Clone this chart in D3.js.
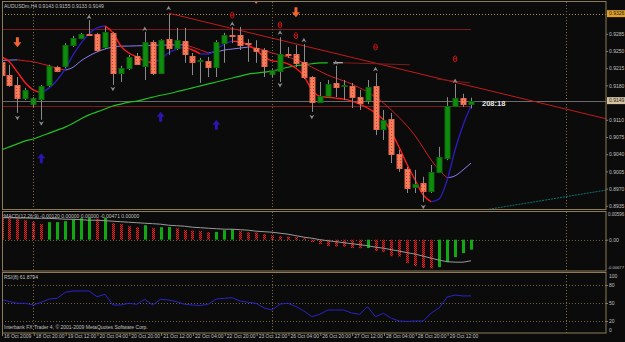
<!DOCTYPE html>
<html>
<head>
<meta charset="utf-8">
<script src="https://cdn.jsdelivr.net/npm/d3@7"></script>
<style>
  body { margin: 0; background: #0b0b0b; }
  svg { display: block; }
  text { font-family: "Liberation Sans", Arial, sans-serif; }
</style>
</head>
<body>
<script>
// AUDUSDm H4, bar 0 = first visible bar (16 Oct 2009)
var open  = [.9228,.9201,.9181,.9154,.9142,.9152,.9181,.9217,.9220,.9262,.9276,.9285,.9285,.9258,.9287,.9205,.9215,.9240,.9220,.9268,
             .9205,.9274,.9256,.9270,.9240,.9230,.9230,.9217,.9266,.9283,.9283,.9266,.9256,.9252,.9203,.9209,.9244,.9244,.9228,.9197,
             .9146,.9158,.9185,.9179,.9179,.9156,.9150,.9179,.9091,.9112,.9040,.9010,.8973,.8981,.8965,.9004,.9032,.9138,.9154,.9143];
var high  = [.9242,.9222,.9197,.9175,.9156,.9181,.9222,.9220,.9266,.9281,.9287,.9313,.9287,.9299,.9289,.9220,.9242,.9246,.9289,.9272,
             .9274,.9325,.9297,.9297,.9246,.9236,.9238,.9272,.9287,.9299,.9299,.9274,.9272,.9256,.9215,.9278,.9258,.9262,.9264,.9199,
             .9187,.9191,.9220,.9191,.9185,.9171,.9191,.9205,.9130,.9124,.9049,.9014,.9008,.8994,.9018,.9055,.9156,.9183,.9163,.9155];
var low   = [.9195,.9177,.9124,.9150,.9136,.9110,.9177,.9207,.9215,.9258,.9274,.9281,.9248,.9254,.9181,.9187,.9211,.9222,.9191,.9201,
             .9203,.9242,.9252,.9226,.9201,.9185,.9197,.9197,.9226,.9266,.9252,.9228,.9226,.9197,.9197,.9187,.9236,.9217,.9193,.9126,
             .9144,.9156,.9156,.9150,.9134,.9130,.9142,.9079,.9069,.9022,.9004,.8961,.8961,.8943,.8961,.9002,.9028,.9136,.9136,.9133];
var close = [.9201,.9181,.9154,.9171,.9154,.9179,.9220,.9209,.9262,.9276,.9285,.9283,.9252,.9289,.9205,.9215,.9238,.9224,.9268,.9205,
             .9272,.9256,.9272,.9244,.9228,.9232,.9217,.9268,.9283,.9281,.9262,.9264,.9250,.9220,.9211,.9244,.9242,.9226,.9197,.9146,
             .9158,.9183,.9177,.9181,.9156,.9144,.9177,.9091,.9110,.9040,.9012,.8971,.8979,.8965,.9004,.9034,.9138,.9154,.9142,.9149];

// fast and slow slope-coloured averages, slow green average
var fastMA = [.9238,.9228,.9207,.9185,.9171,.9165,.9175,.9191,.9213,.9242,.9266,.9285,.9297,.9301,.9287,.9260,.9246,.9238,.9230,.9226,
              .9234,.9246,.9254,.9258,.9252,.9244,.9244,.9254,.9264,.9270,.9268,.9262,.9252,.9238,.9230,.9228,.9224,.9215,.9199,.9171,
              .9158,.9156,.9154,.9152,.9148,.9142,.9134,.9124,.9110,.9085,.9053,.9018,.8987,.8957,.8943,.8949,.8987,.9049,.9099,.9138];
var slowMA = [.92305,.92315,.92320,.9230,.9228,.9224,.9220,.9215,.9211,.9217,.9230,.9240,.9248,.9254,.9258,.9260,.92600,.92605,.92610,.92615,
              .92620,.92622,.92624,.92625,.9258,.9252,.9246,.9248,.9252,.9254,.9256,.9258,.9256,.9252,.9246,.9242,.9238,.9232,.9226,.9217,
              .9209,.9201,.9195,.9189,.9183,.9175,.9167,.9156,.9144,.9130,.9114,.9097,.9077,.9053,.9028,.9008,.8992,.8996,.9008,.9022];
var greenMA = [.9049,.9055,.9061,.9067,.9071,.9077,.9083,.9089,.9095,.9103,.9112,.9120,.9126,.9132,.9138,.9142,.9146,.9148,.9152,.9156,
               .9160,.9163,.9167,.9171,.9175,.9179,.9183,.9187,.9191,.9195,.9199,.9203,.9205,.9207,.9209,.9213,.9217,.9220,.9222,.9224,
               .9226,.9226];

var macdHist = [.00569,.00479,.00475,.00435,.00390,.00346,.00390,.00392,.00413,.00457,.00479,.00491,.00471,.00486,.00368,.00346,.00301,.00279,.00323,.00256,
                .00279,.00283,.00256,.00212,.00205,.00190,.00167,.00174,.00212,.00234,.00190,.00167,.00161,.00123,.00100,.00078,.00071,.00056,.00033,-.00056,
                -.00100,-.00145,-.00152,-.00156,-.00187,-.00190,-.00187,-.00256,-.00279,-.00368,-.00375,-.00524,-.00591,-.00630,-.00642,-.00613,-.00502,-.00390,-.00301,-.00223];
var macdSignal = [.00491,.00491,.00486,.00484,.00479,.00479,.00475,.00468,.00457,.00457,.00446,.00435,.00435,.00424,.00413,.00401,.00390,.00379,.00368,.00357,
                  .00346,.00323,.00312,.00301,.00279,.00268,.00256,.00245,.00234,.00234,.00223,.00212,.00190,.00178,.00167,.00145,.00123,.00089,.00056,.00033,
                  0,-.00022,-.00045,-.00067,-.00089,-.00112,-.00134,-.00167,-.00190,-.00223,-.00256,-.00290,-.00323,-.00368,-.00413,-.00457,-.00491,-.00502,-.00502,-.00471];
var rsi = [55.8,52.5,49.5,49.5,46.7,51.2,56.7,57.8,67.8,70,70,70,60.5,64.5,46.7,46.7,49.5,47.8,56.2,46.7,
           56.2,55,52.2,47.8,46.7,45.8,48.3,56.7,57.8,58.8,53.3,51.2,49.5,41.7,38.3,48.3,49.5,44.2,36.7,27.2,
           31.2,38.3,38.3,38.3,33.3,31.2,43.8,27.2,32.8,24.5,20,19.2,20,20,33.3,41.7,60,63.3,61.7,61.88];

var dateLabels = ["16 Oct 2009","18 Oct 20:00","19 Oct 12:00","20 Oct 04:00","20 Oct 20:00","21 Oct 12:00","22 Oct 04:00",
                  "22 Oct 20:00","23 Oct 12:00","26 Oct 04:00","26 Oct 20:00","27 Oct 12:00","28 Oct 04:00","28 Oct 20:00","29 Oct 12:00"];
var priceTicks = [0.9285,0.9250,0.9215,0.9180,0.9110,0.9075,0.9040,0.9005,0.8970,0.8935];

// signals: [bar, price]
var fractalUp = [[11,.9319],[18,.9295],[21,.9337],[29,.9305],[35,.9287],[38,.9272],[42,.9226],[47,.9213],[57,.9189]];
var fractalDn = [[2,.9114],[5,.9103],[14,.9173],[35,.9181],[39,.9116],[53,.8933]];
var sellArrows = [[2,.9268],[37,.9329],[32,.9356]];
var buyArrows = [[5,.9032],[20,.9116],[27,.9100]];
var redMarks = [[29,.9323],[35,.9303],[37,.9281],[47,.9258],[57,.9234]];

var W = 625, H = 342, R = 606;
var svg = d3.select("body").append("svg").attr("width", W).attr("height", H);
svg.append("rect").attr("width", W).attr("height", H).attr("fill", "#0b0b0b");

var x = d3.scaleLinear().domain([0, 59]).range([1.5, 471]);
var y = d3.scaleLinear().domain([0.8935, 0.9285]).range([205.8, 33.8]);
var yM = d3.scaleLinear().domain([-0.00677, 0.00596]).range([270, 213]);
var yR = d3.scaleLinear().domain([0, 100]).range([333, 273]);
var px = function(i) { return Math.round(x(i)) + 0.5; };

var defs = svg.append("defs");
[["clipMain", 2, 2, R - 2, 208], ["clipMacd", 2, 212, R - 2, 59], ["clipRsi", 2, 273, R - 2, 60]].forEach(function(c) {
  defs.append("clipPath").attr("id", c[0]).append("rect")
    .attr("x", c[1]).attr("y", c[2]).attr("width", c[3]).attr("height", c[4]);
});
var bp = defs.append("pattern").attr("id", "bearPat").attr("width", 3).attr("height", 3).attr("patternUnits", "userSpaceOnUse");
bp.append("rect").attr("width", 3).attr("height", 3).attr("fill", "#f4805e");
bp.append("rect").attr("x", 1).attr("y", 1).attr("width", 1).attr("height", 1).attr("fill", "#d8382a");
var hp = defs.append("pattern").attr("id", "histPat").attr("width", 2).attr("height", 2).attr("patternUnits", "userSpaceOnUse");
hp.append("rect").attr("width", 2).attr("height", 2).attr("fill", "#4a0c0c");
hp.append("rect").attr("width", 1).attr("height", 1).attr("fill", "#e02828");
hp.append("rect").attr("x", 1).attr("y", 1).attr("width", 1).attr("height", 1).attr("fill", "#e02828");

var frame = "#8c7b56", grid = "#6e6148", txt = "#c0c0c0";

// ---------- main panel ----------
var main = svg.append("g").attr("clip-path", "url(#clipMain)");

main.append("line").attr("x1", 2).attr("x2", R).attr("y1", Math.round(y(0.9326)) + 0.5).attr("y2", Math.round(y(0.9326)) + 0.5)
  .attr("stroke", "#a8915a").attr("stroke-dasharray", "1,2");
[0.9295, 0.9138].forEach(function(p) {
  main.append("line").attr("x1", 2).attr("x2", x(59)).attr("y1", Math.round(y(p)) + 0.5).attr("y2", Math.round(y(p)) + 0.5)
    .attr("stroke", "#7a1c1c");
});
main.append("line").attr("x1", 2).attr("x2", R).attr("y1", Math.round(y(0.9149)) + 0.5).attr("y2", Math.round(y(0.9149)) + 0.5)
  .attr("stroke", "#6a6a6a");

// trend lines
main.append("line").attr("x1", x(21)).attr("y1", y(0.9327)).attr("x2", x(76)).attr("y2", y(0.9112))
  .attr("stroke", "#c41a1a").attr("stroke-width", 1);
main.append("line").attr("x1", x(60.5)).attr("y1", y(0.8926)).attr("x2", x(76)).attr("y2", y(0.8967))
  .attr("stroke", "#127070").attr("stroke-dasharray", "2,1");
main.append("line").attr("x1", x(42.9)).attr("y1", y(0.9226)).attr("x2", x(51.3)).attr("y2", y(0.9222)).attr("stroke", "#7a1c1c");
main.append("line").attr("x1", x(54.7)).attr("y1", y(0.9193)).attr("x2", x(58.9)).attr("y2", y(0.9185)).attr("stroke", "#7a1c1c");

// green average
main.append("path").datum(d3.range(greenMA.length))
  .attr("d", d3.line().x(function(i) { return x(i); }).y(function(i) { return y(greenMA[i]); }).curve(d3.curveMonotoneX))
  .attr("fill", "none").attr("stroke", "#22c022").attr("stroke-width", 1.2);
main.append("line").attr("x1", x(41.7)).attr("x2", x(42.9)).attr("y1", y(0.9226)).attr("y2", y(0.9226)).attr("stroke", "#e8e8e8");

function slopeLine(vals, yS, upCol, dnCol, w) {
  var runs = [], cur = null;
  for (var i = 1; i < vals.length; i++) {
    var up = vals[i] >= vals[i - 1];
    if (!cur || cur.up !== up) { cur = { up: up, pts: [i - 1] }; runs.push(cur); }
    cur.pts.push(i);
  }
  var line = d3.line().x(function(i) { return x(i); }).y(function(i) { return yS(vals[i]); }).curve(d3.curveMonotoneX);
  main.selectAll(null).data(runs).join("path")
    .attr("d", function(r) { return line(r.pts); })
    .attr("fill", "none").attr("stroke", function(r) { return r.up ? upCol : dnCol; })
    .attr("stroke-width", w);
}
slopeLine(slowMA, y, "#8a7ef0", "#d41c1c", 1);
slopeLine(fastMA, y, "#2a1cb8", "#ff1a1a", 1.4);

// candles
var bars = main.selectAll("g.bar").data(d3.range(open.length)).join("g").attr("class", "bar");
bars.append("line")
  .attr("x1", px).attr("x2", px)
  .attr("y1", function(i) { return y(high[i]); }).attr("y2", function(i) { return y(low[i]); })
  .attr("stroke", "#8a8a8a");
bars.append("rect")
  .attr("x", function(i) { return px(i) - 2.5; })
  .attr("width", 5)
  .attr("y", function(i) { return Math.round(y(Math.max(open[i], close[i]))) + 0.5; })
  .attr("height", function(i) { return Math.max(1, Math.round(Math.abs(y(open[i]) - y(close[i])))); })
  .attr("fill", function(i) { return close[i] >= open[i] ? "#0e8c0e" : "url(#bearPat)"; })
  .attr("stroke", function(i) { return close[i] >= open[i] ? "#0a6a0a" : "#e8674a"; });

// fractals
main.selectAll("path.fu").data(fractalUp).join("path")
  .attr("transform", function(d) { return "translate(" + x(d[0]) + "," + y(d[1]) + ")"; })
  .attr("d", "M0,-2.5L2.5,2L0,0.8L-2.5,2Z").attr("fill", "#8a8a8a");
main.selectAll("path.fd").data(fractalDn).join("path")
  .attr("transform", function(d) { return "translate(" + x(d[0]) + "," + y(d[1]) + ")"; })
  .attr("d", "M0,2.5L2.5,-2L0,-0.8L-2.5,-2Z").attr("fill", "#8a8a8a");

// arrows
main.selectAll("path.sell").data(sellArrows).join("path")
  .attr("transform", function(d) { return "translate(" + x(d[0]) + "," + y(d[1]) + ")"; })
  .attr("d", "M-1.5,-5H1.5V0H4L0,5L-4,0H-1.5Z").attr("fill", "#f06432");
main.selectAll("path.buy").data(buyArrows).join("path")
  .attr("transform", function(d) { return "translate(" + x(d[0]) + "," + y(d[1]) + ")"; })
  .attr("d", "M-1.5,5H1.5V0H4L0,-5L-4,0H-1.5Z").attr("fill", "#2c14b0");
var rm = main.selectAll("g.rm").data(redMarks).join("g")
  .attr("transform", function(d) { return "translate(" + x(d[0]) + "," + y(d[1]) + ")"; });
rm.append("ellipse").attr("rx", 1.8).attr("ry", 3).attr("fill", "none").attr("stroke", "#c81414");
rm.append("line").attr("x1", -1.8).attr("x2", 1.8).attr("stroke", "#c81414");

main.append("text").attr("x", 482).attr("y", 106).text("208:18")
  .attr("fill", "#e8e8e8").attr("font-size", 7.5).attr("font-weight", "bold");

// ---------- MACD panel ----------
var macd = svg.append("g").attr("clip-path", "url(#clipMacd)");
macd.append("line").attr("x1", 2).attr("x2", R).attr("y1", Math.round(yM(0)) + 0.5).attr("y2", Math.round(yM(0)) + 0.5)
  .attr("stroke", grid).attr("stroke-dasharray", "1,2");
macd.selectAll("rect").data(d3.range(macdHist.length)).join("rect")
  .attr("x", function(i) { return Math.round(x(i)) - 1; })
  .attr("width", 3)
  .attr("y", function(i) { return Math.min(yM(0), yM(macdHist[i])); })
  .attr("height", function(i) { return Math.abs(yM(macdHist[i]) - yM(0)); })
  .attr("fill", function(i) { return i > 0 && macdHist[i] > macdHist[i - 1] ? "#12a812" : "url(#histPat)"; });
macd.append("path").datum(d3.range(macdSignal.length))
  .attr("d", d3.line().x(function(i) { return x(i); }).y(function(i) { return yM(macdSignal[i]); }))
  .attr("fill", "none").attr("stroke", "#9a9a9a").attr("stroke-width", 1);

// ---------- RSI panel ----------
var rsiG = svg.append("g").attr("clip-path", "url(#clipRsi)");
[80, 50, 20].forEach(function(v) {
  rsiG.append("line").attr("x1", 2).attr("x2", R).attr("y1", Math.round(yR(v)) + 0.5).attr("y2", Math.round(yR(v)) + 0.5)
    .attr("stroke", grid).attr("stroke-dasharray", "1,2");
});
rsiG.append("path").datum(d3.range(rsi.length))
  .attr("d", d3.line().x(function(i) { return x(i); }).y(function(i) { return yR(rsi[i]); }))
  .attr("fill", "none").attr("stroke", "#2a24c8").attr("stroke-width", 1);

// vertical separators
[4, 34, 71].forEach(function(i) {
  svg.append("line").attr("x1", px(i)).attr("x2", px(i)).attr("y1", 2).attr("y2", 333)
    .attr("stroke", "#7a6a48").attr("stroke-dasharray", "1,2");
});

// frames
[[2, 1.5, 209.5], [2, 211.5, 271], [2, 272.5, 333]].forEach(function(f) {
  svg.append("rect").attr("x", f[0] + 0.5).attr("y", f[1]).attr("width", R - f[0] - 0.5).attr("height", f[2] - f[1])
    .attr("fill", "none").attr("stroke", frame);
});

// ---------- axes ----------
function styleAxis(g) {
  g.select(".domain").remove();
  g.selectAll(".tick line").attr("stroke", frame);
  g.selectAll("text").attr("fill", txt).attr("font-size", 5).attr("font-family", "Liberation Sans, Arial, sans-serif");
}
svg.append("g").attr("transform", "translate(" + R + ",0)")
  .call(d3.axisRight(y).tickValues(priceTicks).tickFormat(d3.format(".4f")).tickSize(2).tickPadding(1))
  .call(styleAxis);
svg.append("g").attr("transform", "translate(" + R + ",0)")
  .call(d3.axisRight(yM).tickValues([0]).tickFormat(function() { return "0.00"; }).tickSize(2).tickPadding(1))
  .call(styleAxis);
svg.append("text").attr("x", 608).attr("y", 216).text("0.00596").attr("fill", txt).attr("font-size", 4.5);
svg.append("text").attr("x", 607.5).attr("y", 269).text("-0.00677").attr("fill", txt).attr("font-size", 4.2);
svg.append("g").attr("transform", "translate(" + R + ",0)")
  .call(d3.axisRight(yR).tickValues([80, 50, 20]).tickSize(2).tickPadding(1))
  .call(styleAxis);
svg.append("text").attr("x", 609).attr("y", 277.5).text("100").attr("fill", txt).attr("font-size", 5);
svg.append("text").attr("x", 609).attr("y", 332).text("0").attr("fill", txt).attr("font-size", 5);

// highlighted price labels
[[0.9326, "0.9326", "#e0a02a"], [0.9149, "0.9149", "#d6c4a0"]].forEach(function(h) {
  var yy = y(h[0]);
  svg.append("rect").attr("x", 607).attr("y", yy - 3.5).attr("width", 18).attr("height", 7).attr("fill", h[2]);
  svg.append("text").attr("x", 609).attr("y", yy + 1.8).text(h[1]).attr("fill", "#222").attr("font-size", 5);
});

var xAxis = svg.append("g").attr("transform", "translate(0,333)")
  .call(d3.axisBottom(x).tickValues(d3.range(0, 57, 4)).tickFormat(function(d, i) { return dateLabels[i]; }).tickSize(3).tickPadding(1))
  .call(styleAxis);
xAxis.selectAll(".tick line").attr("transform", "translate(0.5,0)");
xAxis.selectAll("text").attr("text-anchor", "start").attr("dx", 2).attr("dy", "0.2em");

// labels
svg.append("text").attr("x", 4).attr("y", 7.5).text("AUDUSDm,H4  0.9143 0.9155 0.9133 0.9149").attr("fill", txt).attr("font-size", 5);
svg.append("text").attr("x", 4).attr("y", 217.5).text("MACD(12,26,9)  -0.00120 0.00000 0.00000 -0.00471 0.00000").attr("fill", txt).attr("font-size", 5);
svg.append("text").attr("x", 4).attr("y", 278.5).text("RSI(8) 61.8794").attr("fill", txt).attr("font-size", 5);
svg.append("text").attr("x", 4).attr("y", 329).text("Interbank FX Trader 4, \u00a9 2001-2009 MetaQuotes Software Corp.").attr("fill", txt).attr("font-size", 5);
</script>
</body>
</html>
